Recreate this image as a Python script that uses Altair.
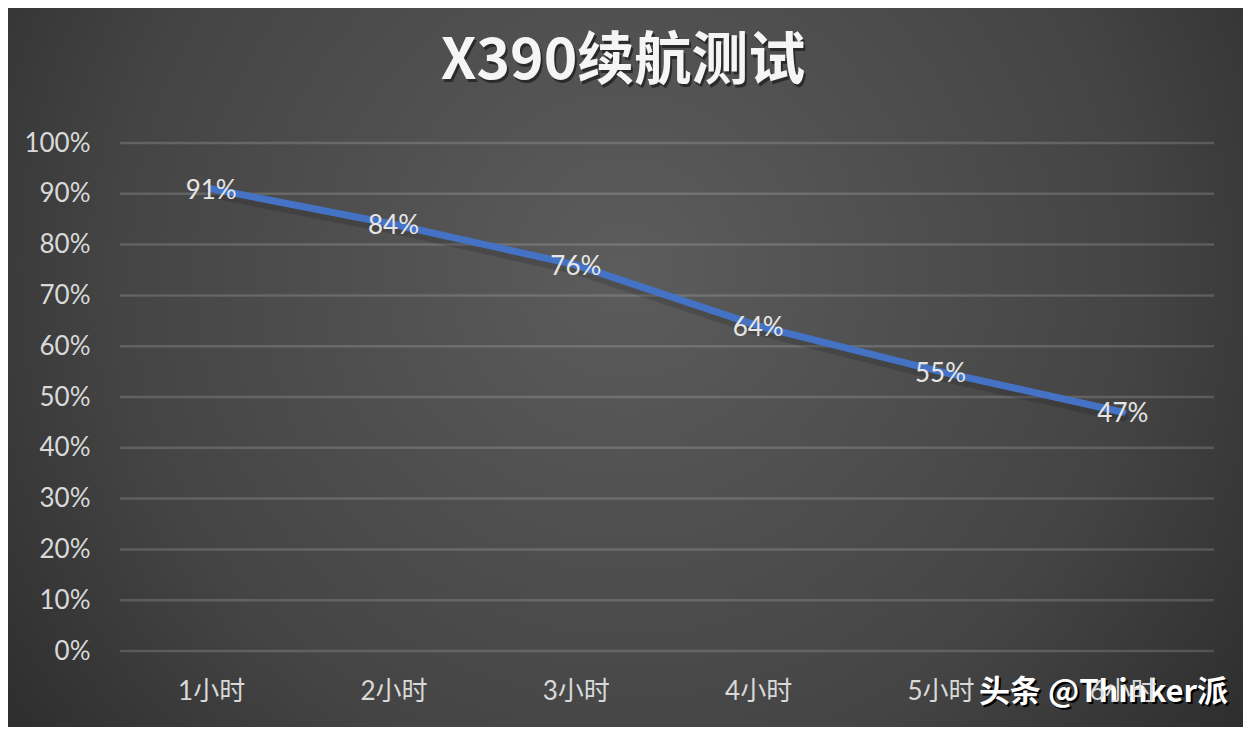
import altair as alt
import pandas as pd

hours = ["1小时", "2小时", "3小时", "4小时", "5小时", "6小时"]
battery = [0.91, 0.84, 0.76, 0.64, 0.55, 0.47]
labels = ["91%", "84%", "76%", "64%", "55%", "47%"]
y_ticks = [0.0, 0.1, 0.2, 0.3, 0.4, 0.5, 0.6, 0.7, 0.8, 0.9, 1.0]
title_text = "X390续航测试"
watermark = "头条 @Thinker派"

df = pd.DataFrame({"hour": hours, "battery": battery, "label": labels})
grid_df = pd.DataFrame({"battery": y_ticks})

W, H = 1094, 508
PL, PT, PR, PB = 112, 135, 29, 76

FONT = "Lato, Noto Sans CJK SC, sans-serif"
CJK = "Noto Sans CJK SC, sans-serif"

x_enc = alt.X("hour:N", sort=hours, title=None,
              scale=alt.Scale(paddingInner=0, paddingOuter=0.5),
              axis=alt.Axis(labelAngle=0, labelFontSize=26, labelColor="#d9d9d9",
                            labelFont=FONT, labelPadding=27, ticks=False, domain=False,
                            grid=False, zindex=1))
y_enc = alt.Y("battery:Q", title=None,
              scale=alt.Scale(domain=[0, 1], nice=False),
              axis=alt.Axis(format=".0%", values=y_ticks,
                            labelFontSize=26, labelColor="#d9d9d9", labelFont=FONT,
                            labelPadding=30, ticks=False, domain=False, zindex=1,
                            grid=False))

bg = alt.Chart(pd.DataFrame({"a": [0]})).mark_rect(
    fill=alt.Gradient(
        gradient="radial",
        x1=0.5, y1=0.42, r1=0.0,
        x2=0.5, y2=0.42, r2=0.75,
        stops=[alt.GradientStop(offset=0, color="#5c5c5c"),
               alt.GradientStop(offset=0.55, color="#444444"),
               alt.GradientStop(offset=1, color="#202020")]),
    clip=False,
).encode(
    x=alt.value(-PL), x2=alt.value(W + PR),
    y=alt.value(-PT), y2=alt.value(H + PB),
)

grid = alt.Chart(grid_df).mark_rule(color="#ffffff", opacity=0.16, strokeWidth=2.5).encode(
    y=y_enc, x=alt.value(0), x2=alt.value(W))

base = alt.Chart(df)

shadow = base.mark_line(color="#000000", opacity=0.14, strokeWidth=11, yOffset=4,
                        strokeCap="round").encode(x=x_enc, y=y_enc)
line = base.mark_line(color="#4472C4", strokeWidth=7, strokeCap="round").encode(x=x_enc, y=y_enc)
text = base.mark_text(fontSize=26, color="#e6e6e6", font=FONT, baseline="middle", dy=2).encode(
    x=x_enc, y=y_enc, text="label:N")

title_df = pd.DataFrame({"t": [title_text]})
TX, TY = 503, -PT + 54
title_shadow = alt.Chart(title_df).mark_text(
    fontSize=57, fontWeight="bold", font=CJK, color="#111111", opacity=0.6,
    baseline="middle", align="center").encode(
    x=alt.value(TX + 2), y=alt.value(TY + 3), text="t:N")
title = alt.Chart(title_df).mark_text(
    fontSize=57, fontWeight="bold", font=CJK, color="#f5f5f5",
    baseline="middle", align="center").encode(
    x=alt.value(TX), y=alt.value(TY), text="t:N")

wm_df = pd.DataFrame({"t": [watermark]})
WX, WY = W + 14, H + 42
wm_shadow = alt.Chart(wm_df).mark_text(
    fontSize=31, fontWeight="bold", font=CJK, color="#000000",
    baseline="middle", align="right").encode(
    x=alt.value(WX + 2), y=alt.value(WY + 2), text="t:N")
wm = alt.Chart(wm_df).mark_text(
    fontSize=31, fontWeight="bold", font=CJK, color="#ffffff",
    baseline="middle", align="right").encode(
    x=alt.value(WX), y=alt.value(WY), text="t:N")

chart = alt.layer(bg, grid, shadow, line, text, title_shadow, title, wm_shadow, wm).properties(
    width=W, height=H,
    padding={"left": PL, "top": PT, "right": PR, "bottom": PB},
    autosize=alt.AutoSizeParams(type="none"),
    background="#2b2b2b",
).configure_view(stroke=None)

chart.save("out.html", embed_options={"renderer": "svg", "actions": False})
